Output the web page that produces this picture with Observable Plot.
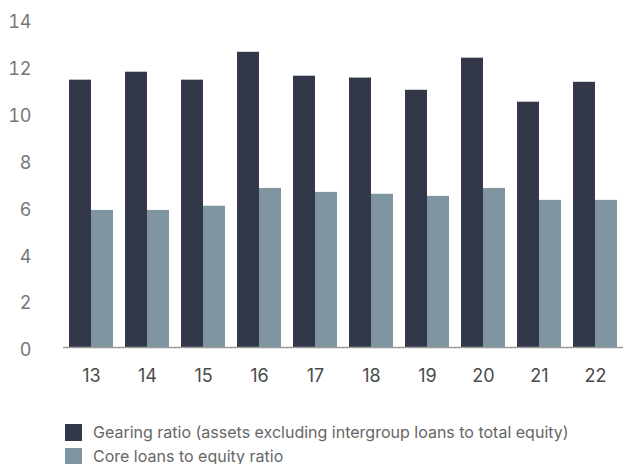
<!DOCTYPE html>
<html>
<head>
<meta charset="utf-8">
<script src="https://cdn.jsdelivr.net/npm/d3@7"></script>
<script src="https://cdn.jsdelivr.net/npm/@observablehq/plot@0.6"></script>
<style>
  html, body { margin: 0; padding: 0; background: #fff; }
  body { width: 623px; font-family: Inter, "Noto Sans", sans-serif; }
  #legend { margin-left: 65px; margin-top: 25px; }
  .row { display: flex; align-items: center; height: 24px; font-size: 16px; color: #666; white-space: nowrap; }
  .sw { width: 17px; height: 17px; margin-right: 11px; flex: none; }
</style>
</head>
<body>
<div id="chart"></div>
<div id="legend"></div>
<script>
const years = ["13", "14", "15", "16", "17", "18", "19", "20", "21", "22"];
const gearing = [11.41, 11.75, 11.41, 12.6, 11.58, 11.5, 10.98, 12.35, 10.47, 11.32];
const core = [5.85, 5.85, 6.03, 6.79, 6.62, 6.54, 6.45, 6.79, 6.28, 6.28];
const seriesNames = ["Gearing ratio (assets excluding intergroup loans to total equity)", "Core loans to equity ratio"];
const seriesColors = ["#323849", "#7f96a0"];
const yTicks = [0, 2, 4, 6, 8, 10, 12, 14];

const data = [];
years.forEach((yr, i) => {
  data.push({year: yr, series: seriesNames[0], value: gearing[i]});
  data.push({year: yr, series: seriesNames[1], value: core[i]});
});

const chart = Plot.plot({
  width: 623,
  height: 395,
  marginLeft: 63,
  marginRight: 0,
  marginTop: 19,
  marginBottom: 48,
  style: {fontFamily: "Inter, 'Noto Sans', sans-serif", background: "#fff"},
  fx: {domain: years, paddingInner: 0.214, paddingOuter: 0.107, label: null},
  x: {domain: seriesNames, padding: 0, axis: null},
  y: {domain: [0, 14], axis: null},
  color: {domain: seriesNames, range: seriesColors},
  marks: [
    Plot.barY(data, {fx: "year", x: "series", y: "value", fill: "series"}),
    Plot.ruleY([0], {stroke: "#9a9a9a", strokeWidth: 1.5, insetLeft: -6, insetRight: -6}),
    Plot.axisY({ticks: yTicks, tickSize: 0, tickPadding: 38, dy: 3, fontSize: 18, color: "#777", label: null}),
    Plot.axisFx({anchor: "bottom", tickSize: 0, tickPadding: 22, fontSize: 18, color: "#4a4a4a", label: null})
  ]
});
document.getElementById("chart").appendChild(chart);

const legend = document.getElementById("legend");
seriesNames.forEach((name, i) => {
  const row = document.createElement("div");
  row.className = "row";
  const sw = document.createElement("span");
  sw.className = "sw";
  sw.style.background = seriesColors[i];
  const t = document.createElement("span");
  t.textContent = name;
  row.appendChild(sw);
  row.appendChild(t);
  legend.appendChild(row);
});
</script>
</body>
</html>
